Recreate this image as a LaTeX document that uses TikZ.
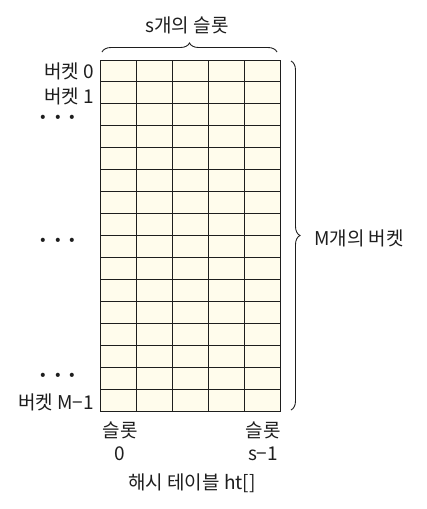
\documentclass[tikz,border=0pt]{standalone}
\usepackage{fontspec}
\setmainfont{Noto Sans CJK KR}
\usetikzlibrary{decorations.pathreplacing}
\definecolor{cellfill}{RGB}{255,252,236}
\definecolor{inkc}{RGB}{30,30,30}
\begin{document}
\begin{tikzpicture}[x=1pt,y=-1pt,
  lbl/.style={font=\fontsize{19}{21}\selectfont, text=inkc, inner sep=0pt},
  dots/.style={font=\fontsize{19}{21}\selectfont\bfseries, text=inkc, inner sep=0pt},
  gridline/.style={draw=inkc, line width=1pt},
  bracestyle/.style={draw=inkc, line width=0.9pt, decorate, decoration={brace, amplitude=9pt}}]
\useasboundingbox (0,0) rectangle (426,509);
% table
\node[draw=inkc, line width=1pt, fill=cellfill, minimum width=180pt, minimum height=351pt, inner sep=0pt, anchor=north west] (tbl) at (100,60) {};
\foreach \i in {1,...,4} \draw[gridline] (100+36*\i,60) -- (100+36*\i,411);
\foreach \j in {1,...,15} \draw[gridline] (100,60+21.9375*\j) -- (280,60+21.9375*\j);
% braces
\coordinate (tb1) at (102,52);
\coordinate (tb2) at (277,52);
\draw[bracestyle] (tb1) -- (tb2);
\coordinate (rb1) at (291,61);
\coordinate (rb2) at (291,410);
\draw[bracestyle] (rb1) -- (rb2);
\node[lbl] (slots) at (187,25) {s개의 슬롯};
\node[lbl, anchor=west] (buckets) at (314,238) {M개의 버켓};
% left labels
\node[lbl, anchor=east] (b0) at (94,71) {버켓 0};
\node[lbl, anchor=east] (b1) at (94,96) {버켓 1};
\node[dots] (d1) at (58,120) {·\,·\,·};
\node[dots] (d2) at (58,243) {·\,·\,·};
\node[dots] (d3) at (58,378) {·\,·\,·};
\node[lbl, anchor=east] (bm) at (94,402) {버켓 M−1};
% bottom labels
\node[lbl] (s0a) at (120,430) {슬롯};
\node[lbl] (s0b) at (120,454) {0};
\node[lbl] (s1a) at (263,430) {슬롯};
\node[lbl] (s1b) at (263,454) {s−1};
\node[lbl] (cap) at (192,483) {해시 테이블 ht[]};
\end{tikzpicture}
\end{document}
